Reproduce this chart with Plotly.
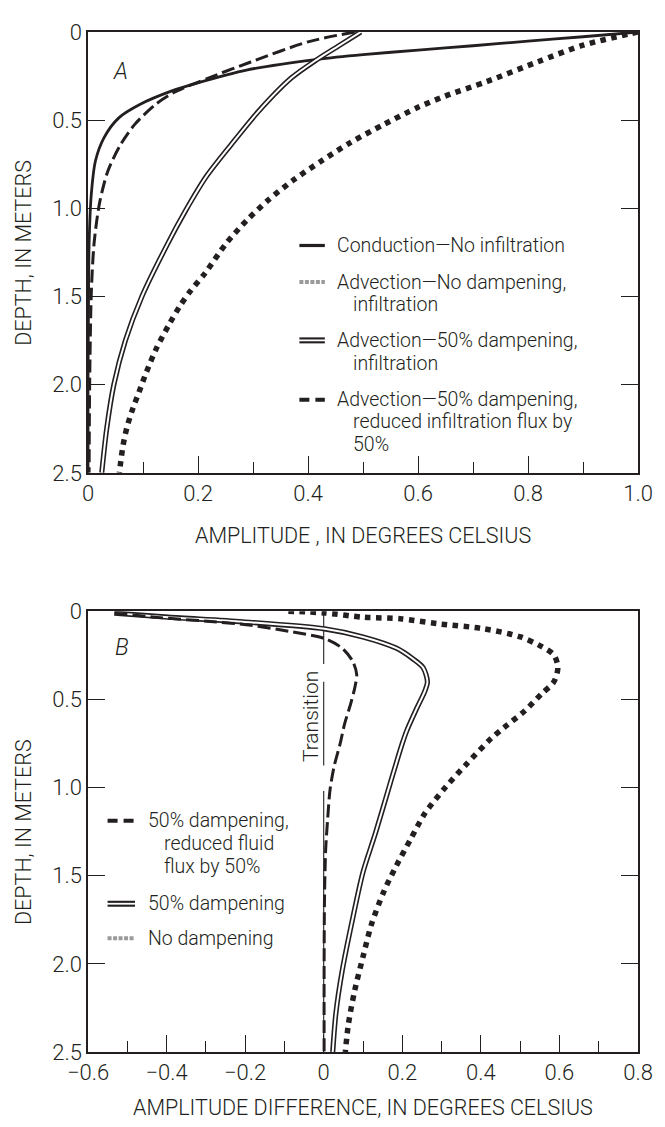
import plotly.graph_objects as go

# ---------------- Panel A data (depth in m, amplitude in deg C) ----------------
cond_depth = [0.0, 0.027, 0.052, 0.078, 0.103, 0.128, 0.155, 0.215, 0.29, 0.337, 0.41, 0.487, 0.6, 0.73, 0.92, 1.2, 1.5, 2.0, 2.5]
cond_amp   = [1.0, 0.90, 0.80, 0.70, 0.60, 0.50, 0.417, 0.290, 0.198, 0.150, 0.095, 0.056, 0.029, 0.0136, 0.006, 0.002, 0.001, 0.0, 0.0]

nodamp_depth = [0.0, 0.01, 0.075, 0.17, 0.28, 0.365, 0.43, 0.524, 0.627, 0.73, 0.843, 0.955, 1.067, 1.2, 1.367, 1.47, 1.55, 1.65, 1.79, 1.93, 2.04, 2.14, 2.24, 2.34, 2.45, 2.5]
nodamp_amp   = [1.0, 0.986, 0.90, 0.817, 0.726, 0.648, 0.598, 0.538, 0.477, 0.425, 0.372, 0.327, 0.289, 0.251, 0.213, 0.186, 0.168, 0.149, 0.125, 0.106, 0.093, 0.081, 0.071, 0.064, 0.059, 0.057]

damp_depth = [0.0, 0.08, 0.155, 0.26, 0.45, 0.64, 0.82, 1.01, 1.2, 1.5, 1.75, 2.0, 2.25, 2.5]
damp_amp   = [0.496, 0.455, 0.417, 0.37, 0.31, 0.26, 0.215, 0.178, 0.145, 0.098, 0.068, 0.047, 0.034, 0.025]

red_depth = [0.0, 0.056, 0.17, 0.26, 0.337, 0.41, 0.524, 0.64, 0.79, 0.97, 1.2, 1.48, 2.0, 2.5]
red_amp   = [0.485, 0.40, 0.296, 0.22, 0.16, 0.123, 0.085, 0.059, 0.036, 0.021, 0.011, 0.006, 0.003, 0.002]

# ---------------- Panel B data (depth in m, amplitude difference in deg C) ----------------
bdamp_depth = [0.011, 0.034, 0.06, 0.1, 0.146, 0.21, 0.27, 0.32, 0.40, 0.45, 0.55, 0.68, 0.75, 0.978, 1.257, 1.48, 1.74, 2.04, 2.28, 2.5]
bdamp_diff  = [-0.533, -0.396, -0.206, 0.002, 0.1, 0.185, 0.227, 0.253, 0.264, 0.258, 0.237, 0.211, 0.2, 0.169, 0.132, 0.1, 0.074, 0.047, 0.031, 0.023]

bnodamp_depth = [0.0, 0.01, 0.034, 0.043, 0.071, 0.099, 0.146, 0.20, 0.248, 0.32, 0.40, 0.47, 0.565, 0.66, 0.72, 0.866, 0.996, 1.145, 1.294, 1.443, 1.59, 1.78, 1.96, 2.15, 2.34, 2.5]
bnodamp_diff  = [-0.09, 0.002, 0.1, 0.195, 0.29, 0.406, 0.501, 0.554, 0.586, 0.596, 0.586, 0.554, 0.512, 0.459, 0.427, 0.364, 0.311, 0.258, 0.221, 0.185, 0.153, 0.121, 0.1, 0.079, 0.063, 0.055]

bred_depth = [0.011, 0.034, 0.06, 0.08, 0.118, 0.155, 0.21, 0.285, 0.36, 0.435, 0.53, 0.64, 0.75, 0.885, 1.015, 1.18, 1.35, 1.63, 2.0, 2.5]
bred_diff  = [-0.533, -0.43, -0.28, -0.185, -0.079, 0.002, 0.047, 0.074, 0.084, 0.079, 0.068, 0.053, 0.042, 0.026, 0.016, 0.01, 0.005, 0.002, 0.001, 0.001]

transition_x     = [0, 0, None, 0, 0, None, 0, 0]
transition_depth = [0.0, 0.30, None, 0.40, 0.875, None, 1.02, 2.5]

# ---------------- Axis ticks ----------------
depth_ticks = [0, 0.5, 1.0, 1.5, 2.0, 2.5]
depth_labels = ["0", "0.5", "1.0", "1.5", "2.0", "2.5"]
a_ticks = [0, 0.2, 0.4, 0.6, 0.8, 1.0]
a_labels = ["0", "0.2", "0.4", "0.6", "0.8", "1.0"]
a_minor = [0.1, 0.3, 0.5, 0.7, 0.9]
a_all = [0.1 * i for i in range(11)]
b_ticks = [-0.6, -0.4, -0.2, 0, 0.2, 0.4, 0.6, 0.8]
b_labels = ["\u22120.6", "\u22120.4", "\u22120.2", "0", "0.2", "0.4", "0.6", "0.8"]
b_minor = [-0.5, -0.3, -0.1, 0.1, 0.3, 0.5, 0.7]
b_all = [-0.6 + 0.1 * i for i in range(15)]

legend_a = [
    ("solid", ["Conduction\u2014No infiltration"]),
    ("dot", ["Advection\u2014No dampening,", "infiltration"]),
    ("double", ["Advection\u201450% dampening,", "infiltration"]),
    ("dash", ["Advection\u201450% dampening,", "reduced infiltration flux by", "50%"]),
]
legend_b = [
    ("dash", ["50% dampening,", "reduced fluid", "flux by 50%"]),
    ("double", ["50% dampening"]),
    ("dot", ["No dampening"]),
]

# ---------------- Layout geometry ----------------
# the page body has an 8px margin, so the figure is drawn 8px right and down
OFF = 8
W, H = 665 - OFF, 1127 - OFF
ML, MR, MT, MB = 88 - OFF, W - (650 - OFF), 20 - OFF, H - (1052 - OFF)
PW = W - ML - MR
PH = H - MT - MB


def px(x):
    # page pixel x -> paper coordinate
    return (x - OFF - ML) / PW


def py(y):
    # page pixel y -> paper coordinate
    return (H - MB - (y - OFF)) / PH


INK = "#231f20"
FONT = "Roboto"
fnt = dict(family=FONT, size=22, color=INK, weight=300)

fig = go.Figure()


def add_curves(xs, ys, xa, ya, style):
    common = dict(x=xs, y=ys, mode="lines", xaxis=xa, yaxis=ya, showlegend=False, hoverinfo="skip")
    if style == "solid":
        fig.add_trace(go.Scatter(line=dict(color=INK, width=2.8, shape="spline", smoothing=0.8), **common))
    elif style == "dash":
        fig.add_trace(go.Scatter(line=dict(color=INK, width=3, dash="13px,5px", shape="spline", smoothing=0.8), **common))
    elif style == "dot":
        fig.add_trace(go.Scatter(line=dict(color=INK, width=5.5, dash="5.5px,5.5px", shape="spline", smoothing=0.8), **common))
    elif style == "double":
        fig.add_trace(go.Scatter(line=dict(color=INK, width=5.2, shape="spline", smoothing=0.8), **common))
        fig.add_trace(go.Scatter(line=dict(color="white", width=2, shape="spline", smoothing=0.8), **common))


# Panel A
add_curves(cond_amp, cond_depth, "x", "y", "solid")
add_curves(nodamp_amp, nodamp_depth, "x", "y", "dot")
add_curves(damp_amp, damp_depth, "x", "y", "double")
add_curves(red_amp, red_depth, "x", "y", "dash")

# Panel B
fig.add_trace(go.Scatter(x=transition_x, y=transition_depth, mode="lines", xaxis="x2", yaxis="y2",
                         line=dict(color=INK, width=1.1), showlegend=False, hoverinfo="skip", connectgaps=False))
add_curves(bnodamp_diff, bnodamp_depth, "x2", "y2", "dot")
add_curves(bdamp_diff, bdamp_depth, "x2", "y2", "double")
add_curves(bred_diff, bred_depth, "x2", "y2", "dash")

A_dom = [py(466), 1.0]
B_dom = [0.0, py(606)]

xcommon = dict(showgrid=False, zeroline=False, showline=True, linecolor=INK, linewidth=1.5, mirror=True,
               ticks="inside", ticklen=17, tickwidth=1.3, tickcolor=INK, tickfont=fnt, ticklabelstandoff=0)
ycommon = dict(showgrid=False, zeroline=False, showline=True, linecolor=INK, linewidth=1.5, mirror="allticks",
               ticks="inside", ticklen=17, tickwidth=1.3, tickcolor=INK, tickfont=fnt,
               tickvals=depth_ticks, ticktext=depth_labels, range=[2.5, 0], ticklabelstandoff=0)
topcommon = dict(showgrid=False, zeroline=False, showline=False, ticks="inside", ticklen=12, tickwidth=1.3,
                 tickcolor=INK, showticklabels=False, side="top")

fig.update_layout(
    width=W, height=H, margin=dict(l=ML, r=MR, t=MT, b=MB),
    paper_bgcolor="white", plot_bgcolor="white", showlegend=False,
    xaxis=dict(domain=[0, 1], anchor="y", range=[0, 1], tickvals=a_ticks, ticktext=a_labels,
               minor=dict(tickvals=a_minor, ticks="inside", ticklen=11, tickwidth=1.3, tickcolor=INK), **xcommon),
    yaxis=dict(domain=A_dom, anchor="x", **ycommon),
    xaxis2=dict(domain=[0, 1], anchor="y2", range=[-0.6, 0.8], tickvals=b_ticks, ticktext=b_labels,
                minor=dict(tickvals=b_minor, ticks="inside", ticklen=11, tickwidth=1.3, tickcolor=INK), **xcommon),
    yaxis2=dict(domain=B_dom, anchor="x2", **ycommon),
    xaxis3=dict(overlaying="x", anchor="y", range=[0, 1], tickvals=a_all, **topcommon),
    xaxis4=dict(overlaying="x2", anchor="y2", range=[-0.6, 0.8], tickvals=b_all, **topcommon),
)

ann = []
# axis titles
ann.append(dict(x=0.5, y=py(529), xref="paper", yref="paper", text="AMPLITUDE , IN DEGREES CELSIUS",
                showarrow=False, xanchor="center", yanchor="middle", font=dict(fnt, size=21.5)))
ann.append(dict(x=0.5, y=py(1108), xref="paper", yref="paper", text="AMPLITUDE DIFFERENCE, IN DEGREES CELSIUS",
                showarrow=False, xanchor="center", yanchor="middle", font=dict(fnt, size=21.5)))
for yc in (243, 829):
    ann.append(dict(x=px(22), y=py(yc), xref="paper", yref="paper", text="DEPTH, IN METERS", textangle=-90,
                    showarrow=False, xanchor="center", yanchor="middle", font=dict(fnt, size=21.5)))
# panel letters
ann.append(dict(x=px(121), y=py(60), xref="paper", yref="paper", text="<i>A</i>", showarrow=False,
                xanchor="center", yanchor="middle", font=dict(fnt, size=23)))
ann.append(dict(x=px(123), y=py(643), xref="paper", yref="paper", text="<i>B</i>", showarrow=False,
                xanchor="center", yanchor="middle", font=dict(fnt, size=23)))
# transition label
ann.append(dict(x=px(316), y=py(713), xref="paper", yref="paper", text="Transition", textangle=-90,
                showarrow=False, xanchor="center", yanchor="middle", font=dict(fnt, size=21)))

shapes = []


def legend_symbol(style, x0, x1, yc):
    y = py(yc)
    if style == "solid":
        shapes.append(dict(type="line", xref="paper", yref="paper", x0=px(x0), x1=px(x1), y0=y, y1=y,
                           line=dict(color=INK, width=3.2)))
    elif style == "dash":
        shapes.append(dict(type="line", xref="paper", yref="paper", x0=px(x0), x1=px(x1), y0=y, y1=y,
                           line=dict(color=INK, width=4, dash="10px,6px")))
    elif style == "dot":
        shapes.append(dict(type="line", xref="paper", yref="paper", x0=px(x0), x1=px(x1), y0=y, y1=y,
                           line=dict(color="#9a9a9a", width=4, dash="4px,1.5px")))
    elif style == "double":
        shapes.append(dict(type="line", xref="paper", yref="paper", x0=px(x0), x1=px(x1), y0=y, y1=y,
                           line=dict(color=INK, width=6)))
        shapes.append(dict(type="line", xref="paper", yref="paper", x0=px(x0) - 0.002, x1=px(x1) + 0.002, y0=y, y1=y,
                           line=dict(color="white", width=1.8)))


def draw_legend(entries, rows, sx0, sx1, tx, tx_ind):
    for (style, lines), yrow in zip(entries, rows):
        legend_symbol(style, sx0, sx1, yrow[0])
        for i, (txt, yy) in enumerate(zip(lines, yrow)):
            ann.append(dict(x=px(tx if i == 0 else tx_ind), y=py(yy), xref="paper", yref="paper", text=txt,
                            showarrow=False, xanchor="left", yanchor="middle", font=dict(fnt, size=19.5)))


draw_legend(legend_a, [[236], [273, 296], [332, 355], [392, 414, 437]], 304, 330, 340, 357)
draw_legend(legend_b, [[818, 841, 864], [902], [937]], 108, 136, 147, 164)

fig.update_layout(annotations=ann, shapes=shapes)

fig.write_html("out.html")
